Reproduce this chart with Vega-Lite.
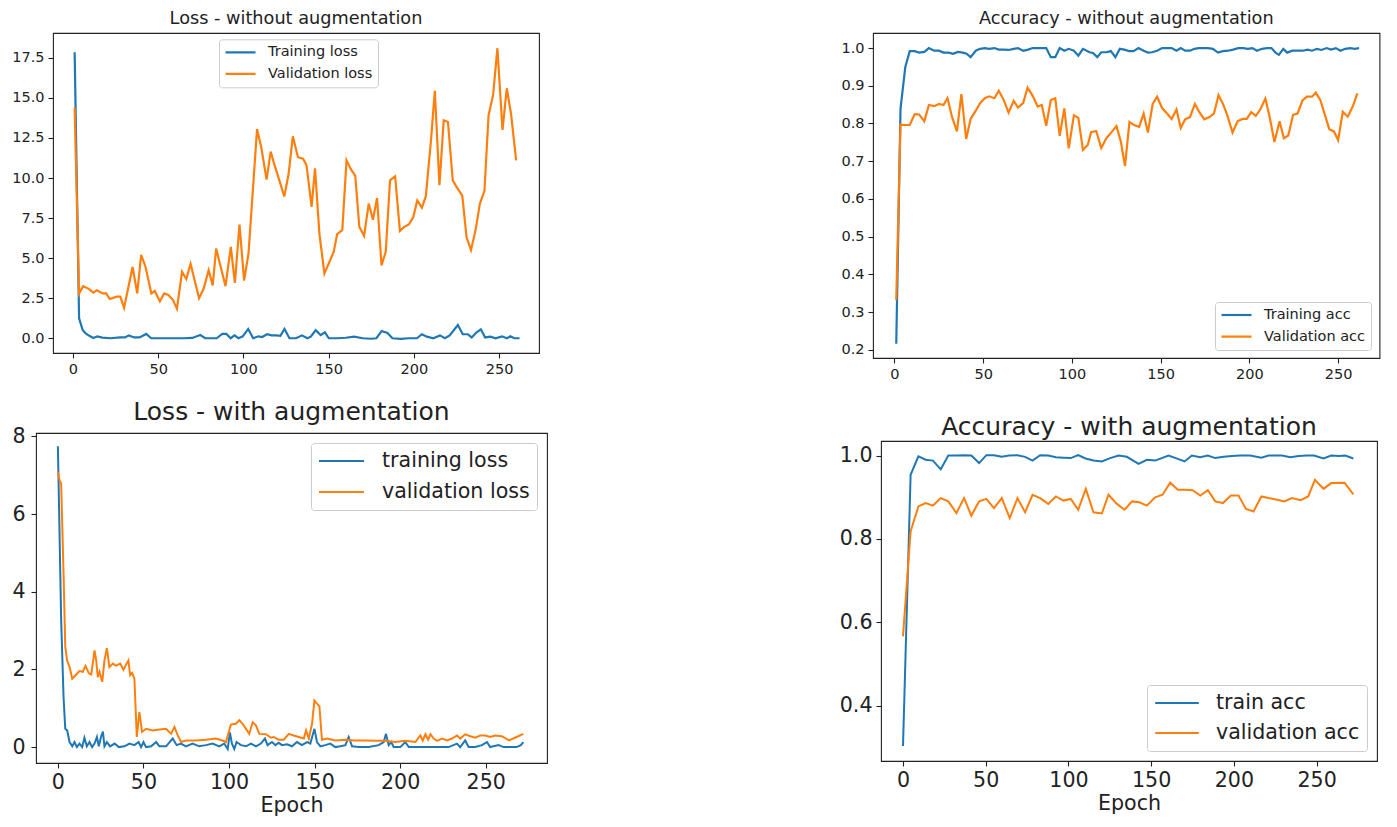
{
"$schema": "https://vega.github.io/schema/vega-lite/v6.json",
"padding": {"left": -265, "top": 9, "right": 0, "bottom": 0},
"background": "white",
"columns": 3,
"align": "none",
"spacing": {"row": 17, "column": 275},
"resolve": {"scale": {"color": "independent"}, "legend": {"color": "independent"}},
"config": {
  "font": "DejaVu Sans",
  "view": {"stroke": "#222222", "strokeWidth": 1.1},
  "axis": {"grid": false, "domain": false, "tickColor": "#222222", "tickSize": 5, "tickWidth": 1.1, "labelColor": "#222222", "labelPadding": 4, "titleColor": "#222222", "titleFontWeight": "normal", "labelFont": "DejaVu Sans", "titleFont": "DejaVu Sans"},
  "legend": {"labelFont": "DejaVu Sans", "labelColor": "#222222", "strokeColor": "#cccccc", "fillColor": "rgba(255,255,255,0.85)", "cornerRadius": 3, "symbolType": "stroke"},
  "title": {"fontWeight": "normal", "color": "#222222", "font": "DejaVu Sans"}
},
"datasets": {
"p1": [
{"epoch":1,"value":17.85,"series":"Training loss"},{"epoch":3.6,"value":1.25,"series":"Training loss"},{"epoch":5.7,"value":0.52,"series":"Training loss"},{"epoch":7.3,"value":0.31,"series":"Training loss"},{"epoch":9.6,"value":0.15,"series":"Training loss"},{"epoch":12,"value":0.02,"series":"Training loss"},{"epoch":14.3,"value":0.12,"series":"Training loss"},{"epoch":17.2,"value":0.04,"series":"Training loss"},{"epoch":22,"value":0.0,"series":"Training loss"},{"epoch":27.7,"value":0.05,"series":"Training loss"},{"epoch":30.5,"value":0.05,"series":"Training loss"},{"epoch":32.8,"value":0.18,"series":"Training loss"},{"epoch":35.9,"value":0.05,"series":"Training loss"},{"epoch":39.1,"value":0.05,"series":"Training loss"},{"epoch":43,"value":0.27,"series":"Training loss"},{"epoch":45.9,"value":0.0,"series":"Training loss"},{"epoch":50,"value":0.0,"series":"Training loss"},{"epoch":55,"value":0.0,"series":"Training loss"},{"epoch":60,"value":0.0,"series":"Training loss"},{"epoch":65,"value":0.0,"series":"Training loss"},{"epoch":70,"value":0.02,"series":"Training loss"},{"epoch":74.7,"value":0.2,"series":"Training loss"},{"epoch":77.6,"value":0.0,"series":"Training loss"},{"epoch":84.3,"value":0.0,"series":"Training loss"},{"epoch":87.6,"value":0.27,"series":"Training loss"},{"epoch":90,"value":0.27,"series":"Training loss"},{"epoch":92.5,"value":0.0,"series":"Training loss"},{"epoch":94.8,"value":0.18,"series":"Training loss"},{"epoch":97.1,"value":0.0,"series":"Training loss"},{"epoch":99.6,"value":0.12,"series":"Training loss"},{"epoch":102.8,"value":0.58,"series":"Training loss"},{"epoch":105.7,"value":0.0,"series":"Training loss"},{"epoch":108.8,"value":0.12,"series":"Training loss"},{"epoch":111,"value":0.08,"series":"Training loss"},{"epoch":113.9,"value":0.25,"series":"Training loss"},{"epoch":116.5,"value":0.18,"series":"Training loss"},{"epoch":119.4,"value":0.18,"series":"Training loss"},{"epoch":121.7,"value":0.15,"series":"Training loss"},{"epoch":124.1,"value":0.58,"series":"Training loss"},{"epoch":127,"value":0.0,"series":"Training loss"},{"epoch":130.9,"value":0.0,"series":"Training loss"},{"epoch":134.3,"value":0.18,"series":"Training loss"},{"epoch":137.6,"value":0.0,"series":"Training loss"},{"epoch":139.5,"value":0.1,"series":"Training loss"},{"epoch":142.4,"value":0.5,"series":"Training loss"},{"epoch":145.3,"value":0.2,"series":"Training loss"},{"epoch":147.8,"value":0.37,"series":"Training loss"},{"epoch":150.1,"value":0.0,"series":"Training loss"},{"epoch":155,"value":0.0,"series":"Training loss"},{"epoch":160,"value":0.03,"series":"Training loss"},{"epoch":165,"value":0.1,"series":"Training loss"},{"epoch":170,"value":0.0,"series":"Training loss"},{"epoch":175,"value":-0.03,"series":"Training loss"},{"epoch":178,"value":0.0,"series":"Training loss"},{"epoch":181.1,"value":0.45,"series":"Training loss"},{"epoch":184.5,"value":0.33,"series":"Training loss"},{"epoch":187.4,"value":0.0,"series":"Training loss"},{"epoch":192.2,"value":-0.04,"series":"Training loss"},{"epoch":197,"value":0.0,"series":"Training loss"},{"epoch":201.8,"value":0.0,"series":"Training loss"},{"epoch":204.7,"value":0.25,"series":"Training loss"},{"epoch":207.6,"value":0.1,"series":"Training loss"},{"epoch":211.4,"value":0.0,"series":"Training loss"},{"epoch":215.3,"value":0.18,"series":"Training loss"},{"epoch":218.2,"value":0.0,"series":"Training loss"},{"epoch":221,"value":0.18,"series":"Training loss"},{"epoch":225.8,"value":0.83,"series":"Training loss"},{"epoch":228.7,"value":0.25,"series":"Training loss"},{"epoch":231.6,"value":0.25,"series":"Training loss"},{"epoch":233.9,"value":0.05,"series":"Training loss"},{"epoch":236.8,"value":0.37,"series":"Training loss"},{"epoch":239.3,"value":0.56,"series":"Training loss"},{"epoch":241.8,"value":0.05,"series":"Training loss"},{"epoch":245,"value":0.1,"series":"Training loss"},{"epoch":247.9,"value":0.0,"series":"Training loss"},{"epoch":251.7,"value":0.12,"series":"Training loss"},{"epoch":254.6,"value":0.0,"series":"Training loss"},{"epoch":256.5,"value":0.12,"series":"Training loss"},{"epoch":259,"value":0.0,"series":"Training loss"},{"epoch":262,"value":0.0,"series":"Training loss"},
{"epoch":1,"value":14.4,"series":"Validation loss"},{"epoch":3.6,"value":2.8,"series":"Validation loss"},{"epoch":6,"value":3.25,"series":"Validation loss"},{"epoch":9,"value":3.1,"series":"Validation loss"},{"epoch":12,"value":2.85,"series":"Validation loss"},{"epoch":14,"value":3.0,"series":"Validation loss"},{"epoch":17.5,"value":2.8,"series":"Validation loss"},{"epoch":19.5,"value":2.8,"series":"Validation loss"},{"epoch":21.6,"value":2.45,"series":"Validation loss"},{"epoch":25.7,"value":2.6,"series":"Validation loss"},{"epoch":27.8,"value":2.6,"series":"Validation loss"},{"epoch":30,"value":1.9,"series":"Validation loss"},{"epoch":35,"value":4.45,"series":"Validation loss"},{"epoch":37.7,"value":2.8,"series":"Validation loss"},{"epoch":40,"value":5.2,"series":"Validation loss"},{"epoch":42.6,"value":4.45,"series":"Validation loss"},{"epoch":46,"value":2.8,"series":"Validation loss"},{"epoch":48,"value":2.95,"series":"Validation loss"},{"epoch":51,"value":2.3,"series":"Validation loss"},{"epoch":53.5,"value":2.8,"series":"Validation loss"},{"epoch":56,"value":2.7,"series":"Validation loss"},{"epoch":58.6,"value":2.4,"series":"Validation loss"},{"epoch":61,"value":1.85,"series":"Validation loss"},{"epoch":64,"value":4.15,"series":"Validation loss"},{"epoch":66.5,"value":3.7,"series":"Validation loss"},{"epoch":69,"value":4.65,"series":"Validation loss"},{"epoch":74,"value":2.5,"series":"Validation loss"},{"epoch":76.7,"value":3.1,"series":"Validation loss"},{"epoch":79.6,"value":4.25,"series":"Validation loss"},{"epoch":82,"value":3.3,"series":"Validation loss"},{"epoch":84,"value":5.6,"series":"Validation loss"},{"epoch":89.5,"value":3.25,"series":"Validation loss"},{"epoch":92.6,"value":5.7,"series":"Validation loss"},{"epoch":95,"value":3.45,"series":"Validation loss"},{"epoch":97.7,"value":7.1,"series":"Validation loss"},{"epoch":100.4,"value":3.6,"series":"Validation loss"},{"epoch":103,"value":5.3,"series":"Validation loss"},{"epoch":108,"value":13.05,"series":"Validation loss"},{"epoch":110.5,"value":11.9,"series":"Validation loss"},{"epoch":113.6,"value":9.9,"series":"Validation loss"},{"epoch":116,"value":11.65,"series":"Validation loss"},{"epoch":118,"value":10.9,"series":"Validation loss"},{"epoch":124,"value":8.85,"series":"Validation loss"},{"epoch":126.5,"value":10.25,"series":"Validation loss"},{"epoch":129,"value":12.6,"series":"Validation loss"},{"epoch":132,"value":11.3,"series":"Validation loss"},{"epoch":135,"value":11.2,"series":"Validation loss"},{"epoch":137,"value":10.8,"series":"Validation loss"},{"epoch":140,"value":8.2,"series":"Validation loss"},{"epoch":142,"value":10.6,"series":"Validation loss"},{"epoch":144.6,"value":6.5,"series":"Validation loss"},{"epoch":147.5,"value":4.05,"series":"Validation loss"},{"epoch":150,"value":4.65,"series":"Validation loss"},{"epoch":153,"value":5.4,"series":"Validation loss"},{"epoch":155,"value":6.5,"series":"Validation loss"},{"epoch":158,"value":6.75,"series":"Validation loss"},{"epoch":160.5,"value":11.1,"series":"Validation loss"},{"epoch":163,"value":10.55,"series":"Validation loss"},{"epoch":165.6,"value":10.15,"series":"Validation loss"},{"epoch":168,"value":6.95,"series":"Validation loss"},{"epoch":170.8,"value":6.4,"series":"Validation loss"},{"epoch":173.5,"value":8.4,"series":"Validation loss"},{"epoch":176,"value":7.4,"series":"Validation loss"},{"epoch":178.4,"value":8.75,"series":"Validation loss"},{"epoch":181,"value":4.55,"series":"Validation loss"},{"epoch":183.5,"value":5.4,"series":"Validation loss"},{"epoch":186,"value":9.85,"series":"Validation loss"},{"epoch":189,"value":10.1,"series":"Validation loss"},{"epoch":191.8,"value":6.7,"series":"Validation loss"},{"epoch":194.4,"value":6.95,"series":"Validation loss"},{"epoch":197,"value":7.1,"series":"Validation loss"},{"epoch":199.6,"value":7.55,"series":"Validation loss"},{"epoch":202,"value":8.6,"series":"Validation loss"},{"epoch":204.7,"value":8.15,"series":"Validation loss"},{"epoch":207,"value":8.85,"series":"Validation loss"},{"epoch":210,"value":12.3,"series":"Validation loss"},{"epoch":212.3,"value":15.45,"series":"Validation loss"},{"epoch":215,"value":9.55,"series":"Validation loss"},{"epoch":217.5,"value":13.6,"series":"Validation loss"},{"epoch":220,"value":13.5,"series":"Validation loss"},{"epoch":222.8,"value":9.85,"series":"Validation loss"},{"epoch":225.3,"value":9.4,"series":"Validation loss"},{"epoch":228.4,"value":8.9,"series":"Validation loss"},{"epoch":230.9,"value":6.3,"series":"Validation loss"},{"epoch":233.5,"value":5.5,"series":"Validation loss"},{"epoch":236.2,"value":6.75,"series":"Validation loss"},{"epoch":238.7,"value":8.4,"series":"Validation loss"},{"epoch":241.4,"value":9.2,"series":"Validation loss"},{"epoch":243.8,"value":13.9,"series":"Validation loss"},{"epoch":246.5,"value":15.2,"series":"Validation loss"},{"epoch":249,"value":18.1,"series":"Validation loss"},{"epoch":252,"value":13.0,"series":"Validation loss"},{"epoch":254.5,"value":15.6,"series":"Validation loss"},{"epoch":257,"value":14.0,"series":"Validation loss"},{"epoch":260,"value":11.1,"series":"Validation loss"}
],
"p2": [
{"epoch":1,"value":0.216,"series":"Training acc"},{"epoch":3.4,"value":0.839,"series":"Training acc"},{"epoch":6.1,"value":0.95,"series":"Training acc"},{"epoch":8.6,"value":0.992,"series":"Training acc"},{"epoch":11.4,"value":0.992,"series":"Training acc"},{"epoch":13.9,"value":0.988,"series":"Training acc"},{"epoch":16.8,"value":0.99,"series":"Training acc"},{"epoch":19.4,"value":1.0,"series":"Training acc"},{"epoch":22.3,"value":0.993,"series":"Training acc"},{"epoch":25.1,"value":0.993,"series":"Training acc"},{"epoch":27.6,"value":0.988,"series":"Training acc"},{"epoch":30.5,"value":0.988,"series":"Training acc"},{"epoch":33,"value":0.985,"series":"Training acc"},{"epoch":35.7,"value":0.99,"series":"Training acc"},{"epoch":38.5,"value":0.988,"series":"Training acc"},{"epoch":40.6,"value":0.985,"series":"Training acc"},{"epoch":42.9,"value":0.976,"series":"Training acc"},{"epoch":45.8,"value":0.993,"series":"Training acc"},{"epoch":48.2,"value":0.998,"series":"Training acc"},{"epoch":50.9,"value":1.0,"series":"Training acc"},{"epoch":53.4,"value":0.998,"series":"Training acc"},{"epoch":56.3,"value":1.0,"series":"Training acc"},{"epoch":58.8,"value":0.996,"series":"Training acc"},{"epoch":61.6,"value":0.996,"series":"Training acc"},{"epoch":64.3,"value":0.995,"series":"Training acc"},{"epoch":67.2,"value":0.998,"series":"Training acc"},{"epoch":69.6,"value":1.0,"series":"Training acc"},{"epoch":72.5,"value":0.993,"series":"Training acc"},{"epoch":75.3,"value":0.996,"series":"Training acc"},{"epoch":77.8,"value":1.0,"series":"Training acc"},{"epoch":80.7,"value":1.0,"series":"Training acc"},{"epoch":83,"value":1.0,"series":"Training acc"},{"epoch":85.5,"value":1.0,"series":"Training acc"},{"epoch":88.1,"value":0.976,"series":"Training acc"},{"epoch":90.6,"value":0.976,"series":"Training acc"},{"epoch":93.1,"value":1.0,"series":"Training acc"},{"epoch":95.7,"value":0.993,"series":"Training acc"},{"epoch":98.2,"value":0.998,"series":"Training acc"},{"epoch":101.1,"value":0.993,"series":"Training acc"},{"epoch":103.6,"value":0.98,"series":"Training acc"},{"epoch":106.2,"value":0.998,"series":"Training acc"},{"epoch":109.9,"value":0.989,"series":"Training acc"},{"epoch":111.8,"value":0.987,"series":"Training acc"},{"epoch":114.3,"value":0.976,"series":"Training acc"},{"epoch":116.5,"value":0.989,"series":"Training acc"},{"epoch":119.4,"value":0.989,"series":"Training acc"},{"epoch":121.9,"value":0.992,"series":"Training acc"},{"epoch":124.5,"value":0.976,"series":"Training acc"},{"epoch":127,"value":0.998,"series":"Training acc"},{"epoch":129.5,"value":0.996,"series":"Training acc"},{"epoch":132.2,"value":0.992,"series":"Training acc"},{"epoch":134.7,"value":0.992,"series":"Training acc"},{"epoch":137.5,"value":1.0,"series":"Training acc"},{"epoch":140.4,"value":0.993,"series":"Training acc"},{"epoch":142.8,"value":0.988,"series":"Training acc"},{"epoch":145.1,"value":0.989,"series":"Training acc"},{"epoch":148,"value":0.993,"series":"Training acc"},{"epoch":150.8,"value":1.0,"series":"Training acc"},{"epoch":153.7,"value":1.0,"series":"Training acc"},{"epoch":156.2,"value":1.0,"series":"Training acc"},{"epoch":158.9,"value":0.993,"series":"Training acc"},{"epoch":161.3,"value":1.0,"series":"Training acc"},{"epoch":163.8,"value":0.993,"series":"Training acc"},{"epoch":166.5,"value":0.993,"series":"Training acc"},{"epoch":169,"value":0.998,"series":"Training acc"},{"epoch":171.4,"value":1.0,"series":"Training acc"},{"epoch":174.1,"value":1.0,"series":"Training acc"},{"epoch":176.6,"value":1.0,"series":"Training acc"},{"epoch":179.4,"value":0.998,"series":"Training acc"},{"epoch":182.3,"value":0.988,"series":"Training acc"},{"epoch":185.1,"value":0.992,"series":"Training acc"},{"epoch":188,"value":0.993,"series":"Training acc"},{"epoch":190.8,"value":0.996,"series":"Training acc"},{"epoch":193.7,"value":1.0,"series":"Training acc"},{"epoch":196.6,"value":1.0,"series":"Training acc"},{"epoch":199.1,"value":0.998,"series":"Training acc"},{"epoch":201.7,"value":1.0,"series":"Training acc"},{"epoch":204.2,"value":0.993,"series":"Training acc"},{"epoch":207.1,"value":0.998,"series":"Training acc"},{"epoch":209.9,"value":1.0,"series":"Training acc"},{"epoch":212.4,"value":1.0,"series":"Training acc"},{"epoch":214.7,"value":0.988,"series":"Training acc"},{"epoch":216.6,"value":0.982,"series":"Training acc"},{"epoch":219.1,"value":0.998,"series":"Training acc"},{"epoch":221.3,"value":0.988,"series":"Training acc"},{"epoch":224.2,"value":0.993,"series":"Training acc"},{"epoch":227.1,"value":0.993,"series":"Training acc"},{"epoch":229.9,"value":0.993,"series":"Training acc"},{"epoch":232.8,"value":0.996,"series":"Training acc"},{"epoch":235.3,"value":0.993,"series":"Training acc"},{"epoch":238,"value":0.998,"series":"Training acc"},{"epoch":240.6,"value":0.995,"series":"Training acc"},{"epoch":243.5,"value":1.0,"series":"Training acc"},{"epoch":246,"value":0.996,"series":"Training acc"},{"epoch":248.7,"value":1.0,"series":"Training acc"},{"epoch":251.3,"value":0.993,"series":"Training acc"},{"epoch":254,"value":0.998,"series":"Training acc"},{"epoch":256.7,"value":1.0,"series":"Training acc"},{"epoch":259.3,"value":0.998,"series":"Training acc"},{"epoch":261.8,"value":1.0,"series":"Training acc"},
{"epoch":1,"value":0.331,"series":"Validation acc"},{"epoch":3.4,"value":0.797,"series":"Validation acc"},{"epoch":6.1,"value":0.796,"series":"Validation acc"},{"epoch":8.6,"value":0.796,"series":"Validation acc"},{"epoch":11.4,"value":0.825,"series":"Validation acc"},{"epoch":13.9,"value":0.824,"series":"Validation acc"},{"epoch":16.8,"value":0.806,"series":"Validation acc"},{"epoch":19.4,"value":0.849,"series":"Validation acc"},{"epoch":22.3,"value":0.846,"series":"Validation acc"},{"epoch":25.1,"value":0.852,"series":"Validation acc"},{"epoch":27.6,"value":0.849,"series":"Validation acc"},{"epoch":29.9,"value":0.867,"series":"Validation acc"},{"epoch":32.4,"value":0.818,"series":"Validation acc"},{"epoch":35.2,"value":0.779,"series":"Validation acc"},{"epoch":37.7,"value":0.878,"series":"Validation acc"},{"epoch":40.4,"value":0.759,"series":"Validation acc"},{"epoch":42.9,"value":0.812,"series":"Validation acc"},{"epoch":45.8,"value":0.834,"series":"Validation acc"},{"epoch":48.2,"value":0.854,"series":"Validation acc"},{"epoch":50.9,"value":0.867,"series":"Validation acc"},{"epoch":53.4,"value":0.872,"series":"Validation acc"},{"epoch":56.3,"value":0.867,"series":"Validation acc"},{"epoch":58.8,"value":0.887,"series":"Validation acc"},{"epoch":61.6,"value":0.862,"series":"Validation acc"},{"epoch":64.3,"value":0.829,"series":"Validation acc"},{"epoch":67.2,"value":0.86,"series":"Validation acc"},{"epoch":69.6,"value":0.842,"series":"Validation acc"},{"epoch":72.5,"value":0.854,"series":"Validation acc"},{"epoch":75,"value":0.895,"series":"Validation acc"},{"epoch":77.8,"value":0.874,"series":"Validation acc"},{"epoch":80.7,"value":0.845,"series":"Validation acc"},{"epoch":83,"value":0.849,"series":"Validation acc"},{"epoch":85.5,"value":0.794,"series":"Validation acc"},{"epoch":88.1,"value":0.862,"series":"Validation acc"},{"epoch":90.6,"value":0.867,"series":"Validation acc"},{"epoch":93.1,"value":0.767,"series":"Validation acc"},{"epoch":95.7,"value":0.84,"series":"Validation acc"},{"epoch":98.2,"value":0.734,"series":"Validation acc"},{"epoch":101.1,"value":0.822,"series":"Validation acc"},{"epoch":103.6,"value":0.815,"series":"Validation acc"},{"epoch":106.2,"value":0.73,"series":"Validation acc"},{"epoch":108.9,"value":0.743,"series":"Validation acc"},{"epoch":110.8,"value":0.777,"series":"Validation acc"},{"epoch":113.7,"value":0.78,"series":"Validation acc"},{"epoch":116.5,"value":0.735,"series":"Validation acc"},{"epoch":119.4,"value":0.761,"series":"Validation acc"},{"epoch":122.3,"value":0.777,"series":"Validation acc"},{"epoch":125.1,"value":0.793,"series":"Validation acc"},{"epoch":127.6,"value":0.751,"series":"Validation acc"},{"epoch":129.9,"value":0.687,"series":"Validation acc"},{"epoch":132.4,"value":0.804,"series":"Validation acc"},{"epoch":135.3,"value":0.795,"series":"Validation acc"},{"epoch":137.9,"value":0.791,"series":"Validation acc"},{"epoch":140.4,"value":0.826,"series":"Validation acc"},{"epoch":142.8,"value":0.776,"series":"Validation acc"},{"epoch":145.5,"value":0.852,"series":"Validation acc"},{"epoch":148,"value":0.871,"series":"Validation acc"},{"epoch":150.8,"value":0.841,"series":"Validation acc"},{"epoch":153.7,"value":0.826,"series":"Validation acc"},{"epoch":156.2,"value":0.812,"series":"Validation acc"},{"epoch":158.9,"value":0.837,"series":"Validation acc"},{"epoch":161.3,"value":0.788,"series":"Validation acc"},{"epoch":163.8,"value":0.811,"series":"Validation acc"},{"epoch":166.5,"value":0.817,"series":"Validation acc"},{"epoch":169.3,"value":0.852,"series":"Validation acc"},{"epoch":171.8,"value":0.83,"series":"Validation acc"},{"epoch":174.6,"value":0.811,"series":"Validation acc"},{"epoch":177.5,"value":0.817,"series":"Validation acc"},{"epoch":180,"value":0.826,"series":"Validation acc"},{"epoch":182.6,"value":0.875,"series":"Validation acc"},{"epoch":185.1,"value":0.852,"series":"Validation acc"},{"epoch":187.6,"value":0.821,"series":"Validation acc"},{"epoch":190.5,"value":0.776,"series":"Validation acc"},{"epoch":193.3,"value":0.806,"series":"Validation acc"},{"epoch":196.2,"value":0.812,"series":"Validation acc"},{"epoch":198.5,"value":0.812,"series":"Validation acc"},{"epoch":201,"value":0.83,"series":"Validation acc"},{"epoch":203.6,"value":0.82,"series":"Validation acc"},{"epoch":206.1,"value":0.837,"series":"Validation acc"},{"epoch":209,"value":0.866,"series":"Validation acc"},{"epoch":211.4,"value":0.817,"series":"Validation acc"},{"epoch":214.1,"value":0.751,"series":"Validation acc"},{"epoch":217,"value":0.806,"series":"Validation acc"},{"epoch":219.4,"value":0.761,"series":"Validation acc"},{"epoch":221.9,"value":0.768,"series":"Validation acc"},{"epoch":224.6,"value":0.823,"series":"Validation acc"},{"epoch":227.1,"value":0.826,"series":"Validation acc"},{"epoch":229.9,"value":0.861,"series":"Validation acc"},{"epoch":232.4,"value":0.871,"series":"Validation acc"},{"epoch":235.3,"value":0.871,"series":"Validation acc"},{"epoch":237.4,"value":0.882,"series":"Validation acc"},{"epoch":240,"value":0.862,"series":"Validation acc"},{"epoch":242.4,"value":0.825,"series":"Validation acc"},{"epoch":245,"value":0.785,"series":"Validation acc"},{"epoch":247.6,"value":0.779,"series":"Validation acc"},{"epoch":250,"value":0.756,"series":"Validation acc"},{"epoch":252.6,"value":0.831,"series":"Validation acc"},{"epoch":255.4,"value":0.818,"series":"Validation acc"},{"epoch":258.4,"value":0.847,"series":"Validation acc"},{"epoch":260.8,"value":0.88,"series":"Validation acc"}
],
"p3": [
{"epoch":0,"value":7.75,"series":"training loss"},{"epoch":1.9,"value":3.27,"series":"training loss"},{"epoch":3.3,"value":1.29,"series":"training loss"},{"epoch":4.3,"value":0.47,"series":"training loss"},{"epoch":5.4,"value":0.43,"series":"training loss"},{"epoch":6.8,"value":0.13,"series":"training loss"},{"epoch":8.4,"value":0.02,"series":"training loss"},{"epoch":9.7,"value":0.13,"series":"training loss"},{"epoch":11.1,"value":0.0,"series":"training loss"},{"epoch":12.6,"value":0.09,"series":"training loss"},{"epoch":14.2,"value":0.0,"series":"training loss"},{"epoch":15.5,"value":0.24,"series":"training loss"},{"epoch":16.9,"value":0.02,"series":"training loss"},{"epoch":18.5,"value":0.13,"series":"training loss"},{"epoch":20,"value":0.0,"series":"training loss"},{"epoch":21.4,"value":0.09,"series":"training loss"},{"epoch":22.8,"value":0.26,"series":"training loss"},{"epoch":23.9,"value":0.02,"series":"training loss"},{"epoch":25.3,"value":0.28,"series":"training loss"},{"epoch":26.3,"value":0.4,"series":"training loss"},{"epoch":27.2,"value":0.02,"series":"training loss"},{"epoch":28.6,"value":0.13,"series":"training loss"},{"epoch":30.5,"value":0.02,"series":"training loss"},{"epoch":33.1,"value":0.09,"series":"training loss"},{"epoch":35.6,"value":0.0,"series":"training loss"},{"epoch":38.9,"value":0.02,"series":"training loss"},{"epoch":41.8,"value":0.09,"series":"training loss"},{"epoch":44.7,"value":0.05,"series":"training loss"},{"epoch":47.2,"value":0.13,"series":"training loss"},{"epoch":48.6,"value":0.0,"series":"training loss"},{"epoch":50,"value":0.13,"series":"training loss"},{"epoch":51.5,"value":0.0,"series":"training loss"},{"epoch":54.5,"value":0.02,"series":"training loss"},{"epoch":57.4,"value":0.13,"series":"training loss"},{"epoch":59.3,"value":0.02,"series":"training loss"},{"epoch":63.2,"value":0.02,"series":"training loss"},{"epoch":67.1,"value":0.22,"series":"training loss"},{"epoch":69.4,"value":0.05,"series":"training loss"},{"epoch":71.9,"value":0.09,"series":"training loss"},{"epoch":74.8,"value":0.02,"series":"training loss"},{"epoch":78.7,"value":0.09,"series":"training loss"},{"epoch":82.6,"value":0.02,"series":"training loss"},{"epoch":86.5,"value":0.05,"series":"training loss"},{"epoch":90.4,"value":0.09,"series":"training loss"},{"epoch":94.3,"value":0.02,"series":"training loss"},{"epoch":97.2,"value":0.09,"series":"training loss"},{"epoch":99.2,"value":-0.05,"series":"training loss"},{"epoch":100.5,"value":0.38,"series":"training loss"},{"epoch":101.7,"value":0.09,"series":"training loss"},{"epoch":103.1,"value":-0.05,"series":"training loss"},{"epoch":104.4,"value":0.13,"series":"training loss"},{"epoch":107,"value":0.05,"series":"training loss"},{"epoch":109.9,"value":0.02,"series":"training loss"},{"epoch":112.8,"value":0.09,"series":"training loss"},{"epoch":115.7,"value":0.02,"series":"training loss"},{"epoch":118.6,"value":0.09,"series":"training loss"},{"epoch":121,"value":0.22,"series":"training loss"},{"epoch":122.5,"value":0.05,"series":"training loss"},{"epoch":125.1,"value":0.13,"series":"training loss"},{"epoch":127.1,"value":0.05,"series":"training loss"},{"epoch":129,"value":0.11,"series":"training loss"},{"epoch":131,"value":0.05,"series":"training loss"},{"epoch":133.9,"value":0.07,"series":"training loss"},{"epoch":136.8,"value":0.02,"series":"training loss"},{"epoch":139.7,"value":0.13,"series":"training loss"},{"epoch":142.6,"value":0.05,"series":"training loss"},{"epoch":145.6,"value":0.13,"series":"training loss"},{"epoch":147.5,"value":0.09,"series":"training loss"},{"epoch":149.9,"value":0.47,"series":"training loss"},{"epoch":151.4,"value":0.13,"series":"training loss"},{"epoch":153.4,"value":0.02,"series":"training loss"},{"epoch":156.3,"value":0.05,"series":"training loss"},{"epoch":159.2,"value":0.09,"series":"training loss"},{"epoch":162.1,"value":0.0,"series":"training loss"},{"epoch":165,"value":0.02,"series":"training loss"},{"epoch":168,"value":0.05,"series":"training loss"},{"epoch":169.9,"value":0.26,"series":"training loss"},{"epoch":171.9,"value":0.02,"series":"training loss"},{"epoch":175.8,"value":0.0,"series":"training loss"},{"epoch":181.6,"value":0.0,"series":"training loss"},{"epoch":187.4,"value":0.05,"series":"training loss"},{"epoch":190.4,"value":0.13,"series":"training loss"},{"epoch":191.7,"value":0.34,"series":"training loss"},{"epoch":193.3,"value":0.05,"series":"training loss"},{"epoch":194.8,"value":0.13,"series":"training loss"},{"epoch":196.2,"value":0.0,"series":"training loss"},{"epoch":200.1,"value":0.0,"series":"training loss"},{"epoch":203,"value":0.13,"series":"training loss"},{"epoch":205,"value":0.0,"series":"training loss"},{"epoch":210.8,"value":0.0,"series":"training loss"},{"epoch":216.7,"value":0.0,"series":"training loss"},{"epoch":222.5,"value":0.0,"series":"training loss"},{"epoch":228.3,"value":0.0,"series":"training loss"},{"epoch":233.2,"value":0.09,"series":"training loss"},{"epoch":235.1,"value":0.0,"series":"training loss"},{"epoch":238,"value":0.17,"series":"training loss"},{"epoch":240,"value":0.0,"series":"training loss"},{"epoch":243.9,"value":0.0,"series":"training loss"},{"epoch":247.8,"value":0.05,"series":"training loss"},{"epoch":250.7,"value":0.13,"series":"training loss"},{"epoch":252.6,"value":0.0,"series":"training loss"},{"epoch":257.5,"value":0.05,"series":"training loss"},{"epoch":260.4,"value":0.0,"series":"training loss"},{"epoch":264,"value":0.0,"series":"training loss"},{"epoch":268,"value":0.0,"series":"training loss"},{"epoch":270.5,"value":0.05,"series":"training loss"},{"epoch":272,"value":0.13,"series":"training loss"},
{"epoch":0,"value":7.09,"series":"validation loss"},{"epoch":1.0,"value":6.87,"series":"validation loss"},{"epoch":1.9,"value":6.79,"series":"validation loss"},{"epoch":3.3,"value":4.47,"series":"validation loss"},{"epoch":4.3,"value":2.58,"series":"validation loss"},{"epoch":5.4,"value":2.23,"series":"validation loss"},{"epoch":6.8,"value":2.06,"series":"validation loss"},{"epoch":8.4,"value":1.76,"series":"validation loss"},{"epoch":10.3,"value":1.85,"series":"validation loss"},{"epoch":12.6,"value":1.96,"series":"validation loss"},{"epoch":14.6,"value":1.94,"series":"validation loss"},{"epoch":16.1,"value":2.09,"series":"validation loss"},{"epoch":18.1,"value":1.9,"series":"validation loss"},{"epoch":19.5,"value":1.87,"series":"validation loss"},{"epoch":21.4,"value":2.49,"series":"validation loss"},{"epoch":22.4,"value":2.23,"series":"validation loss"},{"epoch":23.3,"value":1.8,"series":"validation loss"},{"epoch":24.3,"value":1.94,"series":"validation loss"},{"epoch":25.9,"value":1.68,"series":"validation loss"},{"epoch":27.2,"value":2.23,"series":"validation loss"},{"epoch":28.6,"value":2.55,"series":"validation loss"},{"epoch":30.1,"value":2.06,"series":"validation loss"},{"epoch":32.1,"value":2.15,"series":"validation loss"},{"epoch":34,"value":2.1,"series":"validation loss"},{"epoch":36.4,"value":2.15,"series":"validation loss"},{"epoch":38.3,"value":1.99,"series":"validation loss"},{"epoch":39.9,"value":2.13,"series":"validation loss"},{"epoch":41.2,"value":2.23,"series":"validation loss"},{"epoch":42.2,"value":1.85,"series":"validation loss"},{"epoch":43.4,"value":1.91,"series":"validation loss"},{"epoch":44.7,"value":1.76,"series":"validation loss"},{"epoch":46.1,"value":0.26,"series":"validation loss"},{"epoch":47.6,"value":0.9,"series":"validation loss"},{"epoch":49.2,"value":0.39,"series":"validation loss"},{"epoch":51.5,"value":0.47,"series":"validation loss"},{"epoch":55.4,"value":0.43,"series":"validation loss"},{"epoch":59.3,"value":0.45,"series":"validation loss"},{"epoch":63.2,"value":0.47,"series":"validation loss"},{"epoch":66.1,"value":0.34,"series":"validation loss"},{"epoch":68.1,"value":0.52,"series":"validation loss"},{"epoch":70,"value":0.3,"series":"validation loss"},{"epoch":72,"value":0.13,"series":"validation loss"},{"epoch":74.8,"value":0.17,"series":"validation loss"},{"epoch":80.6,"value":0.17,"series":"validation loss"},{"epoch":86.5,"value":0.19,"series":"validation loss"},{"epoch":92.3,"value":0.22,"series":"validation loss"},{"epoch":96.2,"value":0.17,"series":"validation loss"},{"epoch":98.2,"value":0.13,"series":"validation loss"},{"epoch":101.1,"value":0.58,"series":"validation loss"},{"epoch":104,"value":0.6,"series":"validation loss"},{"epoch":106,"value":0.69,"series":"validation loss"},{"epoch":107.9,"value":0.6,"series":"validation loss"},{"epoch":109.9,"value":0.47,"series":"validation loss"},{"epoch":111.8,"value":0.34,"series":"validation loss"},{"epoch":113.8,"value":0.64,"series":"validation loss"},{"epoch":115.7,"value":0.56,"series":"validation loss"},{"epoch":117.7,"value":0.34,"series":"validation loss"},{"epoch":121.6,"value":0.33,"series":"validation loss"},{"epoch":124.5,"value":0.24,"series":"validation loss"},{"epoch":126.1,"value":0.26,"series":"validation loss"},{"epoch":129,"value":0.19,"series":"validation loss"},{"epoch":132,"value":0.19,"series":"validation loss"},{"epoch":134.9,"value":0.34,"series":"validation loss"},{"epoch":137.8,"value":0.3,"series":"validation loss"},{"epoch":140.7,"value":0.26,"series":"validation loss"},{"epoch":143.7,"value":0.22,"series":"validation loss"},{"epoch":145,"value":0.43,"series":"validation loss"},{"epoch":146.6,"value":0.22,"series":"validation loss"},{"epoch":148.5,"value":0.6,"series":"validation loss"},{"epoch":149.9,"value":1.2,"series":"validation loss"},{"epoch":151.4,"value":1.12,"series":"validation loss"},{"epoch":152.8,"value":1.05,"series":"validation loss"},{"epoch":154.3,"value":0.19,"series":"validation loss"},{"epoch":157.3,"value":0.22,"series":"validation loss"},{"epoch":162.1,"value":0.17,"series":"validation loss"},{"epoch":168,"value":0.19,"series":"validation loss"},{"epoch":173.8,"value":0.17,"series":"validation loss"},{"epoch":179.7,"value":0.17,"series":"validation loss"},{"epoch":185.5,"value":0.16,"series":"validation loss"},{"epoch":191.4,"value":0.16,"series":"validation loss"},{"epoch":197.2,"value":0.13,"series":"validation loss"},{"epoch":203,"value":0.16,"series":"validation loss"},{"epoch":208.9,"value":0.13,"series":"validation loss"},{"epoch":211.8,"value":0.3,"series":"validation loss"},{"epoch":213.2,"value":0.17,"series":"validation loss"},{"epoch":214.8,"value":0.33,"series":"validation loss"},{"epoch":216.3,"value":0.19,"series":"validation loss"},{"epoch":217.7,"value":0.33,"series":"validation loss"},{"epoch":219.6,"value":0.22,"series":"validation loss"},{"epoch":221.6,"value":0.16,"series":"validation loss"},{"epoch":224.5,"value":0.22,"series":"validation loss"},{"epoch":227.4,"value":0.17,"series":"validation loss"},{"epoch":230.3,"value":0.22,"series":"validation loss"},{"epoch":233.2,"value":0.3,"series":"validation loss"},{"epoch":235.1,"value":0.22,"series":"validation loss"},{"epoch":238,"value":0.33,"series":"validation loss"},{"epoch":241,"value":0.28,"series":"validation loss"},{"epoch":243.9,"value":0.24,"series":"validation loss"},{"epoch":246.8,"value":0.3,"series":"validation loss"},{"epoch":249.7,"value":0.3,"series":"validation loss"},{"epoch":252.6,"value":0.26,"series":"validation loss"},{"epoch":255.5,"value":0.3,"series":"validation loss"},{"epoch":259.4,"value":0.28,"series":"validation loss"},{"epoch":263.6,"value":0.17,"series":"validation loss"},{"epoch":268,"value":0.26,"series":"validation loss"},{"epoch":272,"value":0.34,"series":"validation loss"}
],
"p4": [
{"epoch":0,"value":0.303,"series":"train acc"},{"epoch":4.6,"value":0.954,"series":"train acc"},{"epoch":9.3,"value":0.998,"series":"train acc"},{"epoch":13.7,"value":0.99,"series":"train acc"},{"epoch":18.1,"value":0.988,"series":"train acc"},{"epoch":22.8,"value":0.967,"series":"train acc"},{"epoch":27.4,"value":1.0,"series":"train acc"},{"epoch":32.3,"value":1.0,"series":"train acc"},{"epoch":36.9,"value":1.001,"series":"train acc"},{"epoch":41.3,"value":1.0,"series":"train acc"},{"epoch":46,"value":0.982,"series":"train acc"},{"epoch":50.4,"value":1.001,"series":"train acc"},{"epoch":55,"value":1.001,"series":"train acc"},{"epoch":59.7,"value":0.997,"series":"train acc"},{"epoch":64.1,"value":1.0,"series":"train acc"},{"epoch":69.2,"value":1.001,"series":"train acc"},{"epoch":73.8,"value":0.997,"series":"train acc"},{"epoch":78.3,"value":0.988,"series":"train acc"},{"epoch":82.9,"value":1.001,"series":"train acc"},{"epoch":87.8,"value":1.0,"series":"train acc"},{"epoch":92.4,"value":0.996,"series":"train acc"},{"epoch":97,"value":0.995,"series":"train acc"},{"epoch":101.4,"value":0.994,"series":"train acc"},{"epoch":105.9,"value":1.001,"series":"train acc"},{"epoch":110.3,"value":0.993,"series":"train acc"},{"epoch":115.1,"value":0.988,"series":"train acc"},{"epoch":120.2,"value":0.986,"series":"train acc"},{"epoch":125.2,"value":0.994,"series":"train acc"},{"epoch":130.3,"value":1.0,"series":"train acc"},{"epoch":135.3,"value":0.997,"series":"train acc"},{"epoch":142.4,"value":0.98,"series":"train acc"},{"epoch":147.4,"value":0.99,"series":"train acc"},{"epoch":152.4,"value":0.988,"series":"train acc"},{"epoch":160.5,"value":1.0,"series":"train acc"},{"epoch":164.9,"value":0.994,"series":"train acc"},{"epoch":170.2,"value":0.986,"series":"train acc"},{"epoch":174.6,"value":1.0,"series":"train acc"},{"epoch":179.6,"value":0.996,"series":"train acc"},{"epoch":184.3,"value":1.0,"series":"train acc"},{"epoch":188.7,"value":0.994,"series":"train acc"},{"epoch":193.8,"value":0.997,"series":"train acc"},{"epoch":198.8,"value":0.999,"series":"train acc"},{"epoch":203.8,"value":1.0,"series":"train acc"},{"epoch":209.9,"value":1.0,"series":"train acc"},{"epoch":216.6,"value":0.995,"series":"train acc"},{"epoch":221,"value":1.0,"series":"train acc"},{"epoch":229.1,"value":1.0,"series":"train acc"},{"epoch":234.1,"value":0.996,"series":"train acc"},{"epoch":239.2,"value":0.999,"series":"train acc"},{"epoch":244,"value":1.0,"series":"train acc"},{"epoch":248.4,"value":1.0,"series":"train acc"},{"epoch":254.2,"value":0.993,"series":"train acc"},{"epoch":258.8,"value":1.0,"series":"train acc"},{"epoch":263.4,"value":0.999,"series":"train acc"},{"epoch":267.3,"value":1.0,"series":"train acc"},{"epoch":272.2,"value":0.993,"series":"train acc"},
{"epoch":0,"value":0.566,"series":"validation acc"},{"epoch":4.6,"value":0.818,"series":"validation acc"},{"epoch":9.3,"value":0.878,"series":"validation acc"},{"epoch":13.7,"value":0.886,"series":"validation acc"},{"epoch":18.1,"value":0.88,"series":"validation acc"},{"epoch":22.8,"value":0.898,"series":"validation acc"},{"epoch":27.4,"value":0.89,"series":"validation acc"},{"epoch":32.3,"value":0.862,"series":"validation acc"},{"epoch":36.9,"value":0.898,"series":"validation acc"},{"epoch":41.3,"value":0.856,"series":"validation acc"},{"epoch":46,"value":0.89,"series":"validation acc"},{"epoch":50.4,"value":0.896,"series":"validation acc"},{"epoch":55,"value":0.874,"series":"validation acc"},{"epoch":59.7,"value":0.898,"series":"validation acc"},{"epoch":64.5,"value":0.85,"series":"validation acc"},{"epoch":69.2,"value":0.898,"series":"validation acc"},{"epoch":73.8,"value":0.864,"series":"validation acc"},{"epoch":78.3,"value":0.906,"series":"validation acc"},{"epoch":82.9,"value":0.898,"series":"validation acc"},{"epoch":87.8,"value":0.884,"series":"validation acc"},{"epoch":92.4,"value":0.902,"series":"validation acc"},{"epoch":97,"value":0.892,"series":"validation acc"},{"epoch":101.4,"value":0.896,"series":"validation acc"},{"epoch":105.9,"value":0.87,"series":"validation acc"},{"epoch":110.5,"value":0.92,"series":"validation acc"},{"epoch":115.1,"value":0.864,"series":"validation acc"},{"epoch":120.2,"value":0.861,"series":"validation acc"},{"epoch":124.2,"value":0.906,"series":"validation acc"},{"epoch":129.3,"value":0.884,"series":"validation acc"},{"epoch":133.9,"value":0.87,"series":"validation acc"},{"epoch":138.4,"value":0.89,"series":"validation acc"},{"epoch":142.8,"value":0.888,"series":"validation acc"},{"epoch":147.4,"value":0.88,"series":"validation acc"},{"epoch":152.4,"value":0.9,"series":"validation acc"},{"epoch":156.9,"value":0.906,"series":"validation acc"},{"epoch":161.5,"value":0.935,"series":"validation acc"},{"epoch":166.1,"value":0.918,"series":"validation acc"},{"epoch":170.6,"value":0.918,"series":"validation acc"},{"epoch":175,"value":0.917,"series":"validation acc"},{"epoch":179.7,"value":0.904,"series":"validation acc"},{"epoch":184.3,"value":0.917,"series":"validation acc"},{"epoch":188.7,"value":0.89,"series":"validation acc"},{"epoch":193.4,"value":0.886,"series":"validation acc"},{"epoch":198.2,"value":0.904,"series":"validation acc"},{"epoch":202.8,"value":0.904,"series":"validation acc"},{"epoch":207.3,"value":0.872,"series":"validation acc"},{"epoch":211.9,"value":0.866,"series":"validation acc"},{"epoch":216.6,"value":0.902,"series":"validation acc"},{"epoch":221,"value":0.898,"series":"validation acc"},{"epoch":226.1,"value":0.894,"series":"validation acc"},{"epoch":230.5,"value":0.89,"series":"validation acc"},{"epoch":235.1,"value":0.898,"series":"validation acc"},{"epoch":240.3,"value":0.893,"series":"validation acc"},{"epoch":244.9,"value":0.902,"series":"validation acc"},{"epoch":249,"value":0.942,"series":"validation acc"},{"epoch":254.2,"value":0.92,"series":"validation acc"},{"epoch":258.8,"value":0.934,"series":"validation acc"},{"epoch":266.9,"value":0.935,"series":"validation acc"},{"epoch":272.2,"value":0.907,"series":"validation acc"}
]
},
"concat": [
{"width": 1, "height": 1, "data": {"values": [{"k": 0}]}, "mark": {"type": "point", "opacity": 0, "size": 0, "strokeWidth": 0}, "encoding": {}, "view": {"stroke": null}},
{
  "width": 486, "height": 320,
  "title": {"text": "Loss - without augmentation", "fontSize": 17.7, "offset": 5},
  "data": {"name": "p1"},
  "mark": {"type": "line", "strokeWidth": 2.2, "clip": true},
  "encoding": {
    "x": {"field": "epoch", "type": "quantitative", "scale": {"domain": [-11.7, 273.4], "nice": false, "zero": false}, "axis": {"values": [0,50,100,150,200,250], "title": null, "labelFontSize": 14.5}},
    "y": {"field": "value", "type": "quantitative", "scale": {"domain": [-0.92, 19.05], "nice": false, "zero": false}, "axis": {"values": [0,2.5,5,7.5,10,12.5,15,17.5], "format": ".1f", "title": null, "labelFontSize": 14.5}},
    "color": {"field": "series", "type": "nominal", "scale": {"domain": ["Training loss", "Validation loss"], "range": ["#1f77b4", "#ff7f0e"]},
      "legend": {"title": null, "orient": "none", "legendX": 166, "legendY": 6.3, "symbolSize": 900, "symbolStrokeWidth": 2.2, "labelFontSize": 14.5, "labelOffset": 11, "padding": 5, "clipHeight": 16, "rowPadding": 5.6}}
  }
},
{
  "width": 506.5, "height": 325,
  "title": {"text": "Accuracy - without augmentation", "fontSize": 17.7, "offset": 5},
  "data": {"name": "p2"},
  "mark": {"type": "line", "strokeWidth": 2.2, "clip": true},
  "encoding": {
    "x": {"field": "epoch", "type": "quantitative", "scale": {"domain": [-12.1, 273.3], "nice": false, "zero": false}, "axis": {"values": [0,50,100,150,200,250], "title": null, "labelFontSize": 14.5}},
    "y": {"field": "value", "type": "quantitative", "scale": {"domain": [0.178, 1.04], "nice": false, "zero": false}, "axis": {"values": [0.2,0.3,0.4,0.5,0.6,0.7,0.8,0.9,1.0], "format": ".1f", "title": null, "labelFontSize": 14.5}},
    "color": {"field": "series", "type": "nominal", "scale": {"domain": ["Training acc", "Validation acc"], "range": ["#1f77b4", "#ff7f0e"]},
      "legend": {"title": null, "orient": "bottom-right", "offset": 8.5, "symbolSize": 900, "symbolStrokeWidth": 2.2, "labelFontSize": 14.5, "labelOffset": 11, "padding": 5, "clipHeight": 16, "rowPadding": 5.6}}
  }
},
{"width": 1, "height": 1, "data": {"values": [{"k": 0}]}, "mark": {"type": "point", "opacity": 0, "size": 0, "strokeWidth": 0}, "encoding": {}, "view": {"stroke": null}},
{
  "width": 511, "height": 330,
  "title": {"text": "Loss - with augmentation", "fontSize": 25, "offset": 1},
  "data": {"name": "p3"},
  "mark": {"type": "line", "strokeWidth": 2, "clip": true},
  "encoding": {
    "x": {"field": "epoch", "type": "quantitative", "scale": {"domain": [-12.8, 285.8], "nice": false, "zero": false}, "axis": {"values": [0,50,100,150,200,250], "title": "Epoch", "labelFontSize": 20.6, "titleFontSize": 20.6, "titlePadding": 3}},
    "y": {"field": "value", "type": "quantitative", "scale": {"domain": [-0.41, 8.09], "nice": false, "zero": false}, "axis": {"values": [0,2,4,6,8], "format": "d", "title": null, "labelFontSize": 20.6, "labelPadding": 6}},
    "color": {"field": "series", "type": "nominal", "scale": {"domain": ["training loss", "validation loss"], "range": ["#1f77b4", "#ff7f0e"]},
      "legend": {"title": null, "orient": "top-right", "offset": 10, "symbolSize": 2025, "symbolStrokeWidth": 2, "labelFontSize": 20.6, "labelOffset": 17, "padding": 7, "clipHeight": 22, "rowPadding": 9}}
  }
},
{
  "width": 496, "height": 320,
  "title": {"text": ["", "Accuracy - with augmentation"], "fontSize": 25, "lineHeight": 15, "offset": 1},
  "data": {"name": "p4"},
  "mark": {"type": "line", "strokeWidth": 2, "clip": true},
  "encoding": {
    "x": {"field": "epoch", "type": "quantitative", "scale": {"domain": [-13.3, 286.5], "nice": false, "zero": false}, "axis": {"values": [0,50,100,150,200,250], "title": "Epoch", "labelFontSize": 20.6, "titleFontSize": 20.6, "titlePadding": 3}},
    "y": {"field": "value", "type": "quantitative", "scale": {"domain": [0.267, 1.035], "nice": false, "zero": false}, "axis": {"values": [0.4,0.6,0.8,1.0], "format": ".1f", "title": null, "labelFontSize": 20.6, "minExtent": 57}},
    "color": {"field": "series", "type": "nominal", "scale": {"domain": ["train acc", "validation acc"], "range": ["#1f77b4", "#ff7f0e"]},
      "legend": {"title": null, "orient": "bottom-right", "offset": 10, "symbolSize": 1900, "symbolStrokeWidth": 2, "labelFontSize": 20.6, "labelOffset": 16, "padding": 7, "clipHeight": 22, "rowPadding": 8}}
  }
}
]
}
